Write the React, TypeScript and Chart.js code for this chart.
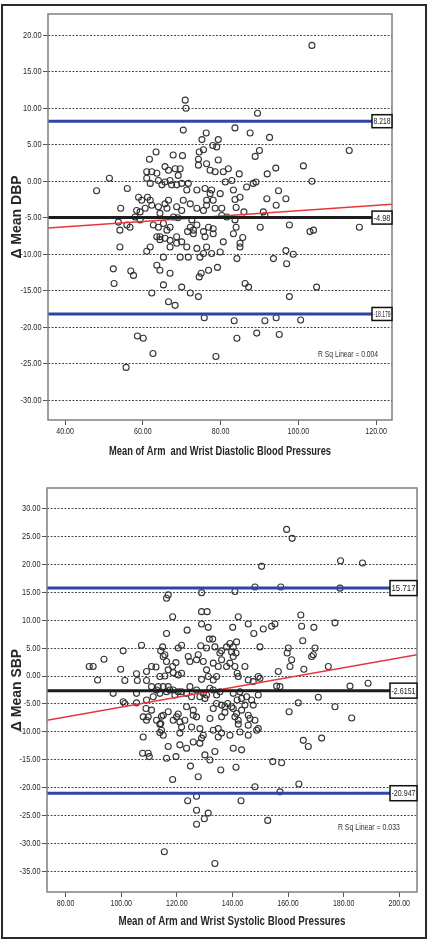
import React, { useEffect, useRef } from 'react';
import { Chart, registerables } from 'chart.js';
Chart.register(...registerables);

// ---------- DBP (top) ----------
const dbpTitleX = 'Mean of Arm  and Wrist Diastolic Blood Pressures';
const dbpTitleY = 'Δ Mean DBP';
const dbpXTicks = [40, 60, 80, 100, 120];
const dbpYTicks = [-30, -25, -20, -15, -10, -5, 0, 5, 10, 15, 20];
const dbpXRange = [35.6, 124.1];
const dbpYRange = [-32.7, 22.9];
const dbpLimits = [8.218, -4.98, -18.179];
const dbpLimitLabels = ['8.218', '-4.98', '-18.179'];
const dbpFit = [[35.6, -6.4], [124.1, -3.15]];
const dbpR2 = 'R Sq Linear = 0.004';
const dbpR2Pos = [112.8, -23.8];
const dbpPoints: [number, number][] = [
  [103.5,18.6],[70.9,11.1],[71.1,10.0],[89.5,9.3],[70.4,7.0],[83.7,7.3],[87.6,6.6],[92.6,6.0],[76.3,6.6],[75.2,5.7],
  [79.4,5.7],[75.6,4.3],[78.0,4.9],[79.0,4.7],[90.0,4.2],[88.9,3.4],[113.1,4.2],[63.4,4.0],[61.7,3.0],[67.8,3.6],
  [70.2,3.5],[74.5,4.0],[74.3,3.0],[79.4,2.9],[74.3,2.2],[76.4,2.4],[77.3,1.5],[78.6,1.3],[82.0,1.7],[80.7,1.3],
  [84.8,1.0],[82.9,0.1],[81.2,-0.1],[61.0,1.3],[62.3,1.3],[63.6,1.1],[65.7,2.0],[66.6,1.5],[68.3,1.7],[69.6,1.7],
  [69.1,0.8],[51.4,0.4],[48.1,-1.3],[56.0,-1.0],[58.9,-2.2],[59.7,-2.6],[61.0,0.4],[61.9,-0.3],[64.0,0.1],[64.9,-0.5],
  [65.7,-0.1],[67.0,0.1],[67.4,-0.5],[68.7,-0.5],[70.0,-0.3],[71.3,-1.2],[71.7,-0.3],[73.9,-1.2],[76.0,-1.0],[77.3,-1.7],
  [76.4,-2.6],[61.2,-2.2],[54.3,-3.7],[58.4,-4.0],[59.3,-4.2],[60.6,-3.7],[61.9,-2.6],[62.3,-3.3],[64.0,-3.5],[64.4,-4.4],
  [65.7,-3.1],[66.2,-3.7],[66.6,-2.6],[68.7,-3.5],[70.0,-4.0],[70.4,-2.6],[72.2,-3.1],[73.9,-3.7],[75.6,-4.0],[76.4,-3.3],
  [78.1,-2.6],[78.6,-3.7],[67.9,-4.9],[69.0,-5.0],[53.7,-5.6],[55.9,-6.0],[56.7,-6.3],[58.0,-4.9],[59.3,-5.3],[54.1,-6.7],
  [62.7,-6.0],[64.0,-6.3],[65.3,-5.8],[66.2,-6.7],[67.0,-6.3],[64.4,-7.6],[65.7,-7.8],[67.0,-8.1],[68.7,-7.6],[70.0,-8.3],
  [72.2,-6.3],[73.0,-6.7],[73.9,-6.0],[75.6,-6.9],[76.9,-6.3],[78.1,-6.5],[54.1,-9.0],[61.9,-9.0],[71.3,-9.0],[73.9,-9.2],
  [76.4,-9.0],[94.2,1.8],[92.0,1.0],[101.3,2.1],[89.1,-0.1],[103.5,0.0],[86.7,-0.8],[88.4,-0.3],[83.3,-1.2],[85.0,-2.2],
  [83.7,-2.5],[91.9,-2.4],[94.9,-1.3],[96.8,-2.4],[94.3,-3.3],[86.0,-4.2],[91.0,-4.2],[91.4,-4.7],[83.7,-5.3],[81.6,-4.9],
  [80.3,-4.7],[90.2,-6.3],[97.7,-6.0],[84.0,-6.3],[83.3,-7.2],[103.0,-6.9],[103.9,-6.7],[115.7,-6.3],[85.7,-7.7],[85.0,-9.0],
  [80.7,-8.3],[93.6,-10.6],[96.8,-9.5],[98.7,-10.0],[97.0,-11.3],[84.2,-10.6],[79.9,-9.7],[77.7,-9.9],[76.9,-12.2],[79.2,-11.8],
  [74.5,-13.1],[75.0,-12.6],[86.3,-14.0],[87.2,-14.5],[104.7,-14.5],[97.7,-15.8],[74.3,-15.8],[72.2,-15.3],[70.0,-14.5],[65.3,-14.2],
  [62.3,-15.3],[66.6,-16.5],[68.3,-17.0],[79.9,-1.7],[77.7,-1.2],[84.0,-3.6],[80.3,-3.7],[78.1,-7.2],[85.0,-8.5],[52.4,-12.0],
  [52.6,-14.0],[56.9,-12.3],[57.6,-12.9],[61.0,-9.6],[63.6,-11.5],[64.4,-12.2],[67.0,-12.6],[69.6,-10.4],[71.7,-10.4],[74.7,-10.4],
  [65.3,-10.4],[67.0,-9.0],[68.7,-8.5],[64.4,-8.0],[63.6,-7.6],[76.0,-7.6],[72.6,-5.3],[73.0,-7.2],[71.5,-6.9],[75.6,-9.9],
  [75.8,-18.7],[83.5,-19.1],[84.2,-21.5],[89.3,-20.8],[91.4,-19.1],[94.3,-18.7],[95.1,-21.0],[100.6,-19.0],[58.6,-21.2],[60.1,-21.5],
  [62.6,-23.6],[78.8,-24.0],[55.7,-25.5],
];

// ---------- SBP (bottom) ----------
const sbpTitleX = 'Mean of Arm and Wrist Systolic Blood Pressures';
const sbpTitleY = 'Δ Mean SBP';
const sbpXTicks = [80, 100, 120, 140, 160, 180, 200];
const sbpYTicks = [-35, -30, -25, -20, -15, -10, -5, 0, 5, 10, 15, 20, 25, 30];
const sbpXRange = [73.3, 206.4];
const sbpYRange = [-38.6, 33.6];
const sbpLimits = [15.717, -2.6151, -20.947];
const sbpLimitLabels = ['15.717', '-2.6151', '-20.947'];
const sbpFit = [[73.3, -7.9], [206.4, 3.8]];
const sbpR2 = 'R Sq Linear = 0.033';
const sbpR2Pos = [189.1, -27.0];
const sbpPoints: [number, number][] = [
  [159.5,26.2],[161.5,24.6],[150.5,19.6],[178.9,20.6],[186.8,20.2],[148.1,15.9],[157.4,15.9],[178.7,15.7],[140.9,15.1],[128.9,14.9],
  [116.3,13.9],[116.9,14.5],[118.5,10.6],[128.9,11.5],[130.9,11.5],[128.9,9.3],[131.3,8.7],[142.1,10.6],[145.7,9.3],[164.6,10.9],
  [164.9,8.9],[169.3,8.7],[176.9,9.5],[154.1,8.9],[155.3,9.3],[140.1,8.7],[151.1,8.4],[123.7,8.2],[147.7,7.6],[116.3,7.6],
  [131.7,6.6],[132.9,6.6],[121.7,5.5],[120.5,5.0],[107.3,5.5],[100.7,4.5],[114.9,5.2],[114.2,4.5],[115.7,3.8],[128.6,5.4],
  [130.7,5.0],[136.1,4.5],[137.9,5.2],[139.1,5.8],[140.3,5.2],[141.5,6.1],[139.7,4.3],[141.3,4.1],[149.9,5.2],[160.1,5.0],
  [159.7,4.1],[165.3,6.3],[169.7,5.0],[169.1,3.8],[168.5,3.5],[133.7,5.2],[161.3,2.9],[160.7,1.7],[165.7,1.2],[174.5,1.7],
  [88.5,1.7],[89.9,1.7],[93.8,3.0],[91.5,-0.7],[99.8,1.2],[101.3,-0.8],[105.5,0.4],[105.8,-0.8],[109.1,0.8],[109.1,-0.8],
  [110.9,1.7],[112.5,1.6],[113.9,-0.1],[115.1,3.5],[116.3,2.6],[116.9,1.1],[118.5,1.7],[119.7,2.4],[121.7,0.5],[120.5,0.2],
  [124.1,3.5],[124.7,2.6],[127.1,2.9],[127.7,3.8],[129.5,2.6],[130.7,1.1],[128.9,-0.6],[131.3,-0.1],[134.3,-0.1],[133.1,-0.7],
  [134.9,1.7],[135.5,4.1],[136.1,2.9],[137.9,1.7],[139.1,2.3],[140.3,3.5],[140.9,1.7],[141.7,0.5],[144.5,1.7],[145.7,-0.7],
  [147.5,-1.0],[149.3,-0.1],[149.9,-0.4],[156.5,0.8],[155.9,-1.8],[157.1,-1.9],[182.3,-1.8],[188.8,-1.3],[115.7,0.0],[118.7,0.6],
  [133.1,2.3],[142.1,-0.1],[97.1,-3.1],[100.7,-4.6],[101.3,-4.9],[105.5,-3.1],[105.5,-4.8],[109.1,-4.3],[108.9,-5.8],[109.7,-7.3],
  [110.9,-1.9],[111.5,-3.7],[112.7,-2.5],[113.3,-1.9],[113.9,-3.1],[115.1,-1.9],[116.3,-2.8],[116.9,-1.9],[117.5,-2.5],[118.7,-2.5],
  [119.3,-3.4],[120.5,-2.8],[121.7,-2.8],[123.5,-3.1],[124.7,-1.9],[125.3,-3.7],[127.1,-2.5],[128.3,-3.7],[129.5,-3.1],[130.1,-4.0],
  [130.7,-3.4],[131.9,-2.2],[133.1,-2.5],[134.3,-3.4],[135.5,-2.8],[140.3,-3.1],[142.7,-2.8],[141.7,-4.3],[145.1,-3.7],[146.9,-4.3],
  [147.5,-5.2],[149.3,-3.4],[163.7,-4.8],[170.9,-3.8],[176.9,-5.5],[182.9,-7.5],[160.4,-6.4],[143.3,-4.0],[144.5,-5.2],[138.3,-4.9],
  [139.7,-5.5],[133.1,-5.8],[134.3,-4.9],[136.1,-5.2],[137.3,-5.5],[140.3,-5.8],[141.5,-6.7],[140.9,-7.3],[142.1,-7.9],[143.3,-6.1],
  [145.7,-7.0],[146.3,-7.6],[148.1,-7.9],[149.3,-9.4],[145.7,-10.6],[148.7,-9.7],[123.5,-5.5],[125.9,-6.1],[127.1,-7.3],[125.9,-7.0],
  [122.9,-7.9],[121.1,-8.2],[121.7,-9.1],[119.9,-7.3],[118.7,-7.9],[116.9,-6.4],[115.1,-7.0],[114.2,-8.5],[114.5,-9.7],[112.7,-7.9],
  [110.9,-6.1],[107.9,-7.3],[109.1,-7.9],[131.9,-7.6],[133.1,-9.7],[134.9,-9.4],[136.1,-10.2],[139.1,-10.6],[142.7,-10.0],[107.9,-10.9],
  [115.1,-10.6],[121.1,-10.2],[128.3,-9.4],[129.5,-10.6],[125.9,-11.8],[165.5,-11.5],[167.3,-12.6],[172.1,-11.1],[116.9,-12.6],[121.1,-12.3],
  [123.5,-12.9],[130.1,-14.1],[131.9,-15.0],[140.3,-12.9],[143.3,-13.2],[133.7,-13.5],[107.7,-13.8],[109.7,-13.8],[110.1,-14.4],[116.3,-14.7],
  [119.7,-14.4],[154.5,-15.3],[157.7,-15.5],[124.9,-16.1],[135.8,-16.8],[141.3,-16.3],[127.7,-18.0],[118.5,-18.5],[163.9,-19.3],[157.1,-20.7],
  [148.1,-19.8],[152.7,-25.8],[143.1,-22.3],[127.1,-21.5],[123.9,-22.3],[127.1,-24.0],[131.3,-24.5],[129.9,-25.5],[127.1,-26.5],[115.5,-31.4],
  [133.7,-33.5],[113.9,-10.1],[128.3,-12.0],[128.9,-11.1],[134.9,-10.9],[113.9,-8.6],[114.5,-7.2],[120.5,-6.8],[125.3,-9.1],[136.1,-7.3],
  [137.3,-6.5],[142.1,-8.6],[145.7,-8.8],
];

const SANS = '"Liberation Sans", Arial, sans-serif';
const BLUE = '#2e44a6';
const BLACK = '#1c1c1c';
const RED = '#e8353a';
const TEXT = '#262626';

interface PlotSpec {
  width: number; height: number; top: number;
  padLeft: number; padRight: number; padTop: number; padBottom: number;
  yAxisWidth: number; xAxisHeight: number;
  titleX: string; titleY: string; titleXWidth: number; titleXOffset: number;
  xTicks: number[]; yTicks: number[]; xRange: number[]; yRange: number[];
  limits: number[]; limitLabels: string[]; fit: number[][];
  r2: string; r2Pos: number[]; r2Width: number; points: [number, number][];
  boxW: number; boxH: number;
}

// draw text horizontally condensed to a fraction of its natural width
function condensed(ctx: CanvasRenderingContext2D, text: string, x: number, y: number, factor: number) {
  const w = ctx.measureText(text).width;
  ctx.fillText(text, x, y, w * factor);
}

function Plot({ spec }: { spec: PlotSpec }) {
  const ref = useRef<HTMLCanvasElement | null>(null);
  useEffect(() => {
    const canvas = ref.current;
    if (!canvas) return;
    const s = spec;
    const hLine = (v: number, color: string) => ({
      type: 'line' as const,
      data: [{ x: s.xRange[0], y: v }, { x: s.xRange[1], y: v }],
      borderColor: color, borderWidth: 3, pointRadius: 0, showLine: true, order: 0,
    });
    const decor = {
      id: 'decor',
      afterDatasetsDraw(chart: any) {
        const { ctx, chartArea: a, scales } = chart;
        ctx.save();
        ctx.strokeStyle = '#808080';
        ctx.lineWidth = 1.5;
        ctx.strokeRect(a.left, a.top, a.right - a.left, a.bottom - a.top);
        // limit labels
        s.limits.forEach((v, i) => {
          const y = scales.y.getPixelForValue(v);
          const x0 = a.right - s.boxW;
          ctx.fillStyle = '#ffffff';
          ctx.fillRect(x0, y - s.boxH / 2, s.boxW, s.boxH);
          ctx.strokeStyle = '#111';
          ctx.lineWidth = 1.5;
          ctx.strokeRect(x0, y - s.boxH / 2, s.boxW, s.boxH);
          ctx.fillStyle = '#222';
          ctx.font = `9px ${SANS}`;
          ctx.textAlign = 'center';
          ctx.textBaseline = 'middle';
          ctx.fillText(s.limitLabels[i], x0 + s.boxW / 2, y + 0.5, s.boxW - 3);
        });
        // R squared
        ctx.fillStyle = '#333';
        ctx.font = `9px ${SANS}`;
        ctx.textAlign = 'center';
        ctx.textBaseline = 'middle';
        ctx.fillText(s.r2, scales.x.getPixelForValue(s.r2Pos[0]), scales.y.getPixelForValue(s.r2Pos[1]), s.r2Width);
        ctx.restore();
      },
      afterDraw(chart: any) {
        const { ctx, chartArea: a, scales } = chart;
        ctx.save();
        ctx.fillStyle = TEXT;
        ctx.font = `9px ${SANS}`;
        // y tick labels
        ctx.textAlign = 'right';
        ctx.textBaseline = 'middle';
        s.yTicks.forEach((v) => {
          condensed(ctx, v.toFixed(2), a.left - 6.5, scales.y.getPixelForValue(v), 0.82);
        });
        // x tick labels
        ctx.textAlign = 'center';
        s.xTicks.forEach((v) => {
          condensed(ctx, v.toFixed(2), scales.x.getPixelForValue(v), a.bottom + 12, 0.78);
        });
        // x title
        ctx.font = `bold 13px ${SANS}`;
        ctx.fillText(s.titleX, (a.left + a.right) / 2, a.bottom + s.titleXOffset, s.titleXWidth);
        // y title
        ctx.translate(17, (a.top + a.bottom) / 2);
        ctx.rotate(-Math.PI / 2);
        ctx.font = `bold 14px ${SANS}`;
        ctx.fillText(s.titleY, 0, 0);
        ctx.restore();
      },
    };
    const chart = new Chart(canvas, {
      type: 'scatter',
      data: {
        datasets: [
          hLine(s.limits[0], BLUE),
          hLine(s.limits[2], BLUE),
          hLine(s.limits[1], BLACK),
          {
            type: 'line' as const,
            data: s.fit.map(([x, y]) => ({ x, y })),
            borderColor: RED, borderWidth: 1.5, pointRadius: 0, showLine: true, order: 0,
          },
          {
            type: 'scatter' as const,
            data: s.points.map(([x, y]) => ({ x, y })),
            pointStyle: 'circle', pointRadius: 3, borderWidth: 1.1,
            borderColor: '#333333', backgroundColor: 'rgba(0,0,0,0)', order: 1,
          },
        ] as any,
      },
      options: {
        animation: false,
        responsive: false,
        maintainAspectRatio: false,
        layout: { padding: { left: s.padLeft, right: s.padRight, top: s.padTop, bottom: s.padBottom } },
        plugins: { legend: { display: false }, tooltip: { enabled: false } },
        scales: {
          x: {
            type: 'linear',
            min: s.xRange[0], max: s.xRange[1],
            afterBuildTicks: (sc: any) => { sc.ticks = s.xTicks.map((v) => ({ value: v })); },
            afterFit: (sc: any) => { sc.height = s.xAxisHeight; },
            ticks: { display: false },
            grid: { drawOnChartArea: false, drawTicks: true, tickLength: 5, tickColor: '#555', tickWidth: 1 },
            border: { display: false },
            title: { display: false },
          },
          y: {
            type: 'linear',
            min: s.yRange[0], max: s.yRange[1],
            afterBuildTicks: (sc: any) => { sc.ticks = s.yTicks.map((v) => ({ value: v })); },
            afterFit: (sc: any) => { sc.width = s.yAxisWidth; },
            ticks: { display: false },
            grid: {
              drawOnChartArea: true, drawTicks: true, tickLength: 5, color: '#4a4a4a', lineWidth: 1,
              tickColor: '#555', tickWidth: 1, tickBorderDash: [],
            },
            border: { display: false, dash: [2, 1.5] },
            title: { display: false },
          },
        },
      } as any,
      plugins: [decor],
    });
    return () => chart.destroy();
  }, [spec]);
  return (
    <canvas
      ref={ref}
      width={spec.width}
      height={spec.height}
      style={{ position: 'absolute', left: 0, top: spec.top, width: spec.width, height: spec.height }}
    />
  );
}

const topSpec: PlotSpec = {
  width: 430, height: 460, top: 0,
  padLeft: 0, padRight: 38, padTop: 14, padBottom: 0,
  yAxisWidth: 48, xAxisHeight: 40,
  titleX: dbpTitleX, titleY: dbpTitleY, titleXWidth: 222, titleXOffset: 31.5,
  xTicks: dbpXTicks, yTicks: dbpYTicks, xRange: dbpXRange, yRange: dbpYRange,
  limits: dbpLimits, limitLabels: dbpLimitLabels, fit: dbpFit,
  r2: dbpR2, r2Pos: dbpR2Pos, r2Width: 60, points: dbpPoints, boxW: 20, boxH: 13,
};

const bottomSpec: PlotSpec = {
  width: 430, height: 482, top: 460,
  padLeft: 0, padRight: 13, padTop: 28, padBottom: 10,
  yAxisWidth: 47, xAxisHeight: 40,
  titleX: sbpTitleX, titleY: sbpTitleY, titleXWidth: 227, titleXOffset: 29.5,
  xTicks: sbpXTicks, yTicks: sbpYTicks, xRange: sbpXRange, yRange: sbpYRange,
  limits: sbpLimits, limitLabels: sbpLimitLabels, fit: sbpFit,
  r2: sbpR2, r2Pos: sbpR2Pos, r2Width: 62, points: sbpPoints, boxW: 27, boxH: 15,
};

export default function App() {
  return (
    <div style={{ position: 'absolute', left: 0, top: 0, width: 430, height: 942, background: '#fff' }}>
      <div
        style={{
          position: 'absolute', left: 1, top: 4, width: 426, height: 935,
          boxSizing: 'border-box', border: '2px solid #2b2b2b',
        }}
      />
      <Plot spec={topSpec} />
      <Plot spec={bottomSpec} />
    </div>
  );
}
